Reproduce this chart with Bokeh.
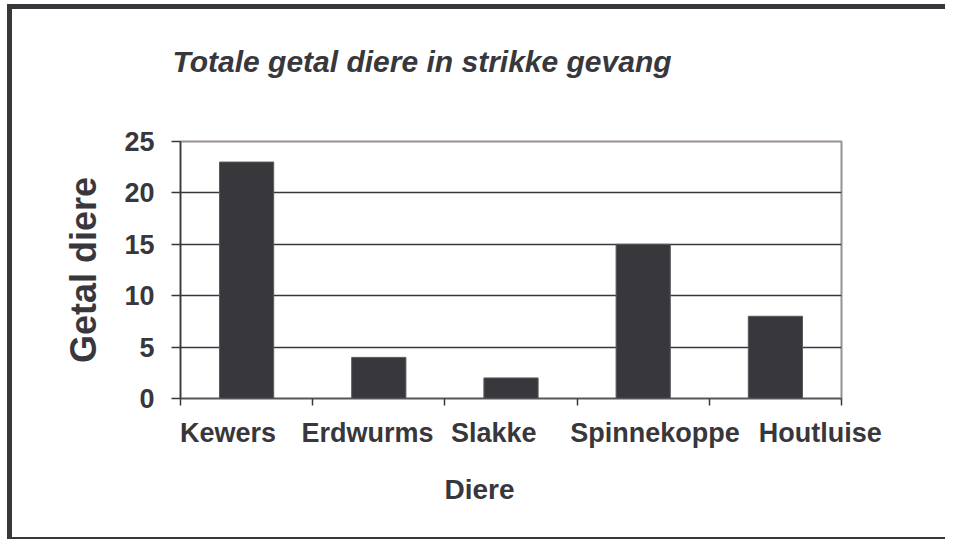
from bokeh.plotting import figure
from bokeh.models import Range1d, FixedTicker, Title
from bokeh.embed import file_html
from bokeh.resources import INLINE

# data
categories = ["Kewers", "Erdwurms", "Slakke", "Spinnekoppe", "Houtluise"]
counts = [23, 4, 2, 15, 8]
y_ticks = [0, 5, 10, 15, 20, 25]
title_text = "Totale getal diere in strikke gevang"
x_title = "Diere"
y_title = "Getal diere"

# layout (label shifts, in category widths, like the reference's staggered labels)
label_shift = [-0.14, -0.085, -0.13, 0.09, 0.34]

INK = "#38373c"
FONT = "Liberation Sans"

W, H = 945, 539
p = figure(width=W, height=H, output_backend="svg", toolbar_location=None,
           x_range=Range1d(0, len(categories)), y_range=Range1d(0, 25),
           min_border_left=180, min_border_right=104,
           min_border_top=141, min_border_bottom=141)

p.border_fill_alpha = 0
g = "linear-gradient(#38373c,#38373c)"
p.styles = {
    "background": (f"{g} 7px 4px / 5px {H - 4}px no-repeat, "
                   f"{g} 7px 4px / {W - 7}px 5px no-repeat, "
                   f"{g} 7px {H - 2}px / {W - 7}px 2px no-repeat, #ffffff"),
}

xs = [i + 0.5 for i in range(len(categories))]
p.vbar(x=xs, top=counts, width=0.41, fill_color=INK, line_color="#5a595e", line_width=1)

# x axis
lab_pos = [x + s for x, s in zip(xs, label_shift)]
xa = p.xaxis[0]
xa.ticker = FixedTicker(ticks=lab_pos, minor_ticks=list(range(len(categories) + 1)))
xa.major_label_overrides = {lp: c for lp, c in zip(lab_pos, categories)}
xa.major_tick_line_color = None
xa.minor_tick_line_color = INK
xa.minor_tick_out = 7
xa.minor_tick_in = 0
xa.minor_tick_line_width = 1.5
xa.axis_line_color = "#555459"
xa.axis_line_width = 1.5
xa.major_label_text_font = FONT
xa.major_label_text_font_style = "bold"
xa.major_label_text_font_size = "27px"
xa.major_label_text_color = INK
xa.major_label_standoff = 12

# y axis
ya = p.yaxis[0]
ya.ticker = FixedTicker(ticks=y_ticks, minor_ticks=[])
ya.major_tick_out = 9
ya.major_tick_in = 0
ya.major_tick_line_color = INK
ya.major_tick_line_width = 1.5
ya.axis_line_color = INK
ya.axis_line_width = 1.5
ya.major_label_text_font = FONT
ya.major_label_text_font_style = "bold"
ya.major_label_text_font_size = "27px"
ya.major_label_text_color = INK
ya.major_label_standoff = 17
ya.axis_label = y_title
ya.axis_label_text_font = FONT
ya.axis_label_text_font_style = "bold"
ya.axis_label_text_font_size = "36px"
ya.axis_label_text_color = INK
ya.axis_label_standoff = 17

p.xgrid.grid_line_color = None
p.ygrid.ticker = FixedTicker(ticks=y_ticks[1:-1])
p.ygrid.grid_line_color = INK
p.ygrid.grid_line_width = 1.5

p.outline_line_color = "#9a9090"
p.outline_line_width = 2

# title, raised well above the frame (an empty second line reserves space)
p.title.text = title_text + "\n"
p.title.align = "left"
p.title.offset = -8
p.title.standoff = 61
p.title.text_font = FONT
p.title.text_font_style = "bold italic"
p.title.text_font_size = "30px"
p.title.text_color = INK

p.add_layout(Title(text=x_title, align="left", offset=264, standoff=42,
                   text_font=FONT, text_font_style="bold", text_font_size="28px",
                   text_color=INK), "below")

open("out.html", "w").write(file_html(p, INLINE))
